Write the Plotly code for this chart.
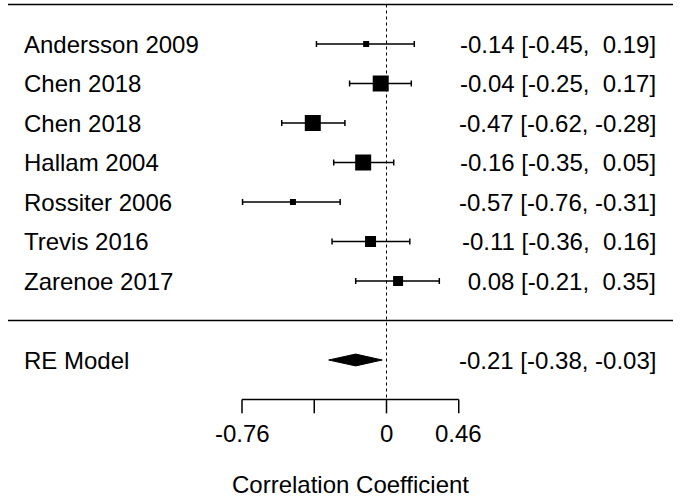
import numpy as np
import plotly.graph_objects as go

# study data (correlations, 95% CI)
studies = ["Andersson 2009", "Chen 2018", "Chen 2018", "Hallam 2004",
           "Rossiter 2006", "Trevis 2016", "Zarenoe 2017"]
r_est = [-0.14, -0.04, -0.47, -0.16, -0.57, -0.11, 0.08]
r_lo = [-0.45, -0.25, -0.62, -0.35, -0.76, -0.36, -0.21]
r_hi = [0.19, 0.17, -0.28, 0.05, -0.31, 0.16, 0.35]
box_px = [6, 16, 16, 16, 6, 11, 10]  # square sizes

re_label = "RE Model"
re_est, re_lo, re_hi = -0.21, -0.38, -0.03

tick_z = [-1.0, -0.5, 0.0, 0.5]
tick_text = ["-0.76", "", "0", "0.46"]
x_title = "Correlation Coefficient"

FONT = "Liberation Sans, Arial, sans-serif"
W, H = 680, 498
X0, SCALE = 386.5, 144.5          # pixel of z=0, px per z unit
ROW0, ROWH = 281, 39.5            # pixel of row 1, px per row

rows = list(range(len(studies), 0, -1))
z = np.arctanh(r_est)
zlo = np.arctanh(r_lo)
zhi = np.arctanh(r_hi)


def fmt(v):
    s = f"{v:.2f}"
    return s if v < 0 else "\u00a0" + s


fig = go.Figure()

# confidence intervals + weight boxes
fig.add_trace(go.Scatter(
    x=z, y=rows, mode="markers",
    marker=dict(symbol="square", size=box_px, color="black", opacity=1,
                line=dict(width=0, color="black")),
    error_x=dict(type="data", symmetric=False, array=zhi - z, arrayminus=z - zlo,
                 color="black", thickness=1.5, width=3),
    hoverinfo="skip"))

# summary diamond
zr, zrl, zrh = np.arctanh([re_est, re_lo, re_hi])
fig.add_trace(go.Scatter(
    x=[zrl, zr, zrh, zr, zrl], y=[-1, -0.85, -1, -1.15, -1],
    mode="lines", fill="toself", fillcolor="black",
    line=dict(color="black", width=1), hoverinfo="skip"))

# reference line at 0
fig.add_trace(go.Scatter(x=[0, 0], y=[8, -2], mode="lines",
                         line=dict(color="black", width=1, dash="dot"), hoverinfo="skip"))

# axis line and ticks
fig.add_trace(go.Scatter(x=[tick_z[0], tick_z[-1]], y=[-2, -2], mode="lines",
                         line=dict(color="black", width=1.5), hoverinfo="skip"))
for t in tick_z:
    fig.add_trace(go.Scatter(x=[t, t], y=[-2, -2.35], mode="lines",
                             line=dict(color="black", width=1.5), hoverinfo="skip"))

# horizontal rules
for yv in [8, 0]:
    fig.add_shape(type="line", xref="paper", x0=8 / W, x1=673 / W, y0=yv, y1=yv,
                  line=dict(color="black", width=1.5))

# text columns
for yv, name, e, lo, hi in zip(rows, studies, r_est, r_lo, r_hi):
    fig.add_annotation(x=22 / W, xref="paper", y=yv, text=name, showarrow=False,
                       xanchor="left", yanchor="middle")
    fig.add_annotation(x=658 / W, xref="paper", y=yv,
                       text=f"{fmt(e)} [{fmt(lo)}, {fmt(hi)}]", showarrow=False,
                       xanchor="right", yanchor="middle")
fig.add_annotation(x=22 / W, xref="paper", y=-1, text=re_label, showarrow=False,
                   xanchor="left", yanchor="middle")
fig.add_annotation(x=658 / W, xref="paper", y=-1,
                   text=f"{fmt(re_est)} [{fmt(re_lo)}, {fmt(re_hi)}]", showarrow=False,
                   xanchor="right", yanchor="middle")

for t, lab in zip(tick_z, tick_text):
    if lab:
        fig.add_annotation(x=t, y=-2.87, text=lab, showarrow=False,
                           xanchor="center", yanchor="middle")
fig.add_annotation(x=(tick_z[0] + tick_z[-1]) / 2, y=-4.16, text=x_title,
                   showarrow=False, xanchor="center", yanchor="middle")

fig.update_layout(
    width=W, height=H,
    margin=dict(l=0, r=0, t=0, b=0),
    paper_bgcolor="white", plot_bgcolor="white",
    showlegend=False,
    font=dict(family=FONT, size=24, color="black"),
    xaxis=dict(range=[-X0 / SCALE, (W - X0) / SCALE], visible=False, fixedrange=True),
    yaxis=dict(range=[1 - (H - ROW0) / ROWH, 1 + ROW0 / ROWH], visible=False, fixedrange=True),
)

# drop the default page margin so the figure sits at the window's corner
fig.write_html("out.html", config={"displayModeBar": False},
               post_script="document.body.style.margin='0';document.body.style.overflow='hidden';")
